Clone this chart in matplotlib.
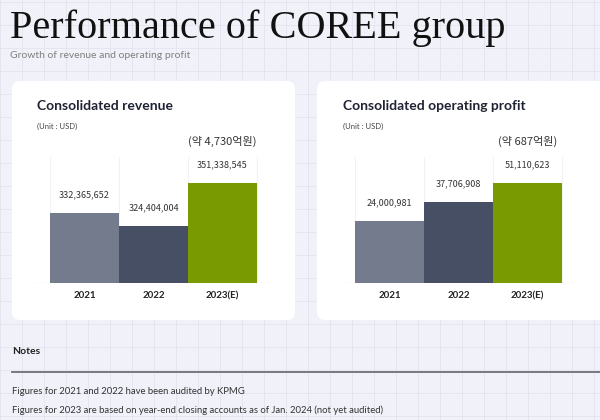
import matplotlib.pyplot as plt
from matplotlib.patches import FancyBboxPatch
import numpy as np

# ---- data ----
years = ["2021", "2022", "2023(E)"]
revenue = [332365652, 324404004, 351338545]
op_profit = [24000981, 37706908, 51110623]
revenue_krw = "(약 4,730억원)"
profit_krw = "(약 687억원)"
bar_colors = ["#737b8c", "#474f64", "#7a9a01"]

notes = [
    "Figures for 2021 and 2022 have been audited by KPMG",
    "Figures for 2023 are based on year-end closing accounts as of Jan. 2024 (not yet audited)",
]

W, H = 600, 420
BG = "#f1f1f9"
SANS = ["Lato", "DejaVu Sans"]
KR = ["Noto Sans CJK KR", "DejaVu Sans"]

fig = plt.figure(figsize=(W / 100, H / 100), dpi=100, facecolor=BG)

# background axes in pixel units (y downwards)
bg = fig.add_axes([0, 0, 1, 1])
bg.set_xlim(0, W)
bg.set_ylim(H, 0)
bg.set_facecolor(BG)
bg.set_xticks(np.arange(0, W, 22))
bg.set_yticks(np.arange(2, H, 23))
bg.grid(True, color="#e5e5f0", lw=0.7, zorder=0)
bg.set_axisbelow(True)
bg.tick_params(length=0, labelbottom=False, labelleft=False)
for s in bg.spines.values():
    s.set_visible(False)

# header
bg.text(10, 38, "Performance of COREE group", family=["Liberation Serif"],
        fontsize=29, color="#111111", va="baseline", ha="left")
bg.text(10, 56, "Growth of revenue and operating profit", family=SANS,
        fontsize=7.5, color="#808080", va="center", ha="left")

# cards
for x0, x1 in [(12, 295), (317, 606)]:
    bg.add_patch(FancyBboxPatch((x0, 81), x1 - x0, 239,
                                boxstyle="round,pad=0,rounding_size=8",
                                fc="white", ec="none", zorder=2))


def px_axes(x0, x1, ytop, ybot):
    return fig.add_axes([x0 / W, 1 - ybot / H, (x1 - x0) / W, (ybot - ytop) / H])


def bar_panel(x0, x1, title, tx, values, bottom, krw):
    # axes spans from baseline (283) up to 157; bar top of the max value sits at 183
    ax = px_axes(x0, x1, 157, 283)
    ax.set_facecolor("none")
    top_val = max(values)
    ax.set_ylim(bottom, bottom + (top_val - bottom) * 126 / 100)
    ax.set_xlim(-0.72, 2.72)
    x = np.arange(len(values))
    ax.bar(x, np.array(values) - bottom, bottom=bottom, width=1.0,
           color=bar_colors, zorder=3)
    for xi in [-0.5, 0.5, 1.5, 2.5]:
        ax.axvline(xi, color="#f2f2f4", lw=0.8, zorder=1)
    ax.axhline(bottom, color="#ececf0", lw=1.0, zorder=2)
    for xi, v in zip(x, values):
        ax.annotate(f"{v:,}", (xi, v), xytext=(0, 13), textcoords="offset points",
                    ha="center", va="center", fontsize=6.5, color="#333333",
                    family=KR)
    ax.annotate(krw, (x[-1], values[-1]), xytext=(0, 30), textcoords="offset points",
                ha="center", va="center", fontsize=8, color="#333333", family=KR)
    ax.set_xticks(x)
    ax.set_xticklabels(years, fontweight="bold", fontsize=7, color="#222222",
                       family=SANS)
    ax.tick_params(axis="x", length=0, pad=6)
    ax.set_yticks([])
    for s in ax.spines.values():
        s.set_visible(False)
    bg.text(tx, 106, title, family=SANS, fontweight="bold", fontsize=10,
            color="#1f2333", va="center", ha="left", zorder=4)
    bg.text(tx, 126, "(Unit : USD)", family=SANS, fontsize=5.5, color="#444444",
            va="center", ha="left", zorder=4)
    return ax


bar_panel(35, 272, "Consolidated revenue", 37, revenue, 288000000, revenue_krw)
bar_panel(340, 577, "Consolidated operating profit", 343, op_profit, -20000000, profit_krw)

# notes
bg.text(12, 352, "Notes", family=SANS, fontweight="bold", fontsize=7.5,
        color="#222222", va="center", ha="left")
bg.plot([12, 600], [372, 372], color="#70707a", lw=1.3)
for i, line in enumerate(notes):
    bg.text(12, 392 + 18 * i, line, family=SANS, fontsize=6.8, color="#333333",
            va="center", ha="left")

fig.savefig("out.png", dpi=100, facecolor=BG)
